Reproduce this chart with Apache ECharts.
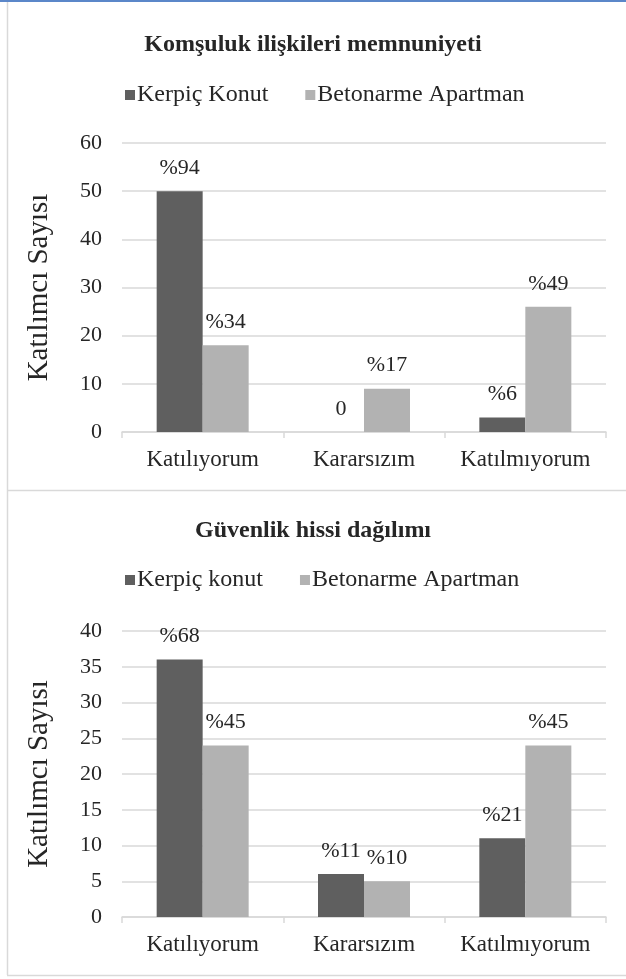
<!DOCTYPE html>
<html>
<head>
<meta charset="utf-8">
<script src="https://cdn.jsdelivr.net/npm/echarts@6/dist/echarts.min.js"></script>
<style>
  html, body { margin: 0; padding: 0; background: #fff; }
  #chart { width: 626px; height: 979px; }
</style>
</head>
<body>
<div id="chart"></div>
<script>
// Shared categories and axis ticks
const categories = ['Katılıyorum', 'Kararsızım', 'Katılmıyorum'];

// Chart 1: Komşuluk ilişkileri memnuniyeti
const title1 = 'Komşuluk ilişkileri memnuniyeti';
const seriesNames1 = ['Kerpiç Konut', 'Betonarme Apartman'];
const kerpic1 = [50, 0, 3];
const beton1 = [18, 9, 26];
const kerpicLabels1 = ['%94', '0', '%6'];
const betonLabels1 = ['%34', '%17', '%49'];
const yTicks1 = { min: 0, max: 60, interval: 10 };

// Chart 2: Güvenlik hissi dağılımı
const title2 = 'Güvenlik hissi dağılımı';
const seriesNames2 = ['Kerpiç konut', 'Betonarme Apartman'];
const kerpic2 = [36, 6, 11];
const beton2 = [24, 5, 24];
const kerpicLabels2 = ['%68', '%11', '%21'];
const betonLabels2 = ['%45', '%10', '%45'];
const yTicks2 = { min: 0, max: 40, interval: 5 };

const yName = 'Katılımcı Sayısı';

const FONT = '"Liberation Serif", "Times New Roman", serif';
const TEXT = '#262626';
const DARK = '#5f5f5f';
const LIGHT = '#b2b2b2';
const GRID = '#d9d9d9';

const chart = echarts.init(document.getElementById('chart'), null, { renderer: 'canvas' });

function xAxis(gridIndex) {
  return {
    type: 'category', gridIndex, data: categories,
    axisLine: { lineStyle: { color: GRID, width: 1.5 } },
    axisTick: { show: true, length: 6, lineStyle: { color: GRID, width: 1.5 } },
    axisLabel: { color: TEXT, fontFamily: FONT, fontSize: 23, margin: 16, interval: 0 }
  };
}
function yAxis(gridIndex, t) {
  return {
    type: 'value', gridIndex, min: t.min, max: t.max, interval: t.interval,
    name: yName, nameLocation: 'middle', nameGap: 68, nameRotate: 90,
    nameTextStyle: { color: TEXT, fontFamily: FONT, fontSize: 29 },
    axisLine: { show: false }, axisTick: { show: false },
    axisLabel: { color: TEXT, fontFamily: FONT, fontSize: 22, margin: 20 },
    splitLine: { lineStyle: { color: GRID, width: 1.5 } }
  };
}
function barSeries(name, data, labels, color, idx) {
  return {
    type: 'bar', name, data, xAxisIndex: idx, yAxisIndex: idx,
    barWidth: 46, barGap: '0%',
    itemStyle: { color },
    label: {
      show: true, position: 'top', distance: 12,
      color: TEXT, fontFamily: FONT, fontSize: 22,
      formatter: p => labels[p.dataIndex]
    }
  };
}
function legend(top, names) {
  return {
    top, left: 125, padding: 0, itemWidth: 10, itemHeight: 10, itemGap: 37,
    icon: 'rect', data: names,
    textStyle: { color: TEXT, fontFamily: FONT, fontSize: 24, padding: [0, 0, 0, -3] }
  };
}

chart.setOption({
  animation: false,
  title: [
    { text: title1, left: 'center', top: 28, textStyle: { color: TEXT, fontFamily: FONT, fontSize: 24, fontWeight: 'bold' } },
    { text: title2, left: 'center', top: 514, textStyle: { color: TEXT, fontFamily: FONT, fontSize: 24, fontWeight: 'bold' } }
  ],
  legend: [legend(83, seriesNames1), legend(568, seriesNames2)],
  grid: [
    { left: 122, right: 20, top: 143, height: 289 },
    { left: 122, right: 20, top: 631, height: 286 }
  ],
  xAxis: [xAxis(0), xAxis(1)],
  yAxis: [yAxis(0, yTicks1), yAxis(1, yTicks2)],
  series: [
    barSeries(seriesNames1[0], kerpic1, kerpicLabels1, DARK, 0),
    barSeries(seriesNames1[1], beton1, betonLabels1, LIGHT, 0),
    barSeries(seriesNames2[0], kerpic2, kerpicLabels2, DARK, 1),
    barSeries(seriesNames2[1], beton2, betonLabels2, LIGHT, 1)
  ],
  graphic: [
    // outer frame and divider between the two panels
    { type: 'line', shape: { x1: 0, y1: 1, x2: 626, y2: 1 }, style: { stroke: '#5b87c9', lineWidth: 2 } },
    { type: 'line', shape: { x1: 7.5, y1: 2, x2: 7.5, y2: 975 }, style: { stroke: GRID, lineWidth: 1.5 } },
    { type: 'line', shape: { x1: 7, y1: 490.5, x2: 626, y2: 490.5 }, style: { stroke: GRID, lineWidth: 1.5 } },
    { type: 'line', shape: { x1: 7, y1: 975.5, x2: 626, y2: 975.5 }, style: { stroke: GRID, lineWidth: 1.5 } }
  ]
});
</script>
</body>
</html>
